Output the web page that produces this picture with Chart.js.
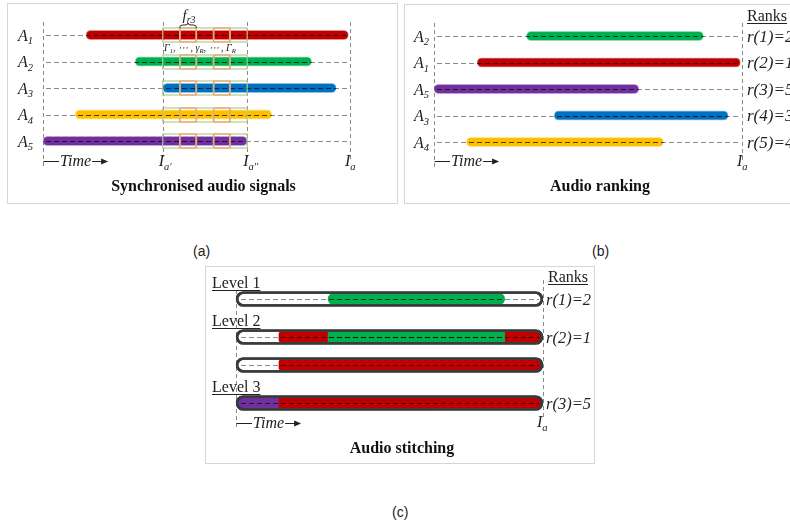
<!DOCTYPE html>
<html>
<head>
<meta charset="utf-8">
<script src="https://cdn.jsdelivr.net/npm/chart.js@4.4.0/dist/chart.umd.min.js"></script>
<style>
  html, body { margin: 0; padding: 0; background: #fff; }
  body { width: 790px; height: 529px; overflow: hidden; position: relative; }
  .panel { position: absolute; }
  .cap { position: absolute; font: 14px "Liberation Sans", Arial, sans-serif; color: #222; }
</style>
</head>
<body>
<div class="panel" style="left:7px;top:3px;width:391px;height:201px"><canvas id="syncChart"></canvas></div>
<div class="panel" style="left:404px;top:4px;width:400px;height:200px"><canvas id="rankChart"></canvas></div>
<div class="panel" style="left:205px;top:266px;width:390px;height:198px"><canvas id="stitchChart"></canvas></div>
<div class="cap" style="left:193px;top:243px">(a)</div>
<div class="cap" style="left:592px;top:243px">(b)</div>
<div class="cap" style="left:392px;top:504px">(c)</div>

<script>
// signals on a common time axis, Ia = 100
const signals = ['A1', 'A2', 'A3', 'A4', 'A5'];
const signalStart = [14, 30, 39, 10.5, 0];
const signalEnd = [99.5, 87.5, 95.5, 74.5, 66.5];
const signalColors = ['#c00000', '#00b050', '#0070c0', '#ffc000', '#7030a0'];
const windowStart = 39;    // Ia'
const windowEnd = 66.5;    // Ia''
const totalLength = 100;   // Ia
const frameCount = 5;
const highlightedFrames = [1, 3];
// r(k) = signal number
const rankValues = [2, 1, 5, 3, 4];
const levels = ['Level 1', 'Level 2', 'Level 3'];

const SERIF = '"Liberation Serif", "Times New Roman", "DejaVu Serif", serif';
const INK = '#222';

// text with subscripts: parts = [[text, isSub], ...]
function rich(ctx, parts, x, y, size, opts = {}) {
  const style = opts.style !== undefined ? opts.style : 'italic ';
  const fonts = parts.map(p => `${style}${p[1] ? size * 0.66 : size}px ${SERIF}`);
  const ws = parts.map((p, i) => { ctx.font = fonts[i]; return ctx.measureText(p[0]).width; });
  const w = ws.reduce((a, b) => a + b, 0);
  let cx = opts.align === 'right' ? x - w : opts.align === 'center' ? x - w / 2 : x;
  const x0 = cx;
  ctx.save();
  ctx.fillStyle = INK; ctx.textAlign = 'left'; ctx.textBaseline = 'alphabetic';
  parts.forEach((p, i) => {
    ctx.font = fonts[i];
    ctx.fillText(p[0], cx, p[1] ? y + size * 0.22 : y);
    cx += ws[i];
  });
  if (opts.underline) {
    ctx.strokeStyle = INK; ctx.lineWidth = 1;
    ctx.beginPath(); ctx.moveTo(x0, Math.round(y + 2) + 0.5); ctx.lineTo(x0 + w, Math.round(y + 2) + 0.5); ctx.stroke();
  }
  ctx.restore();
  return w;
}

function frame(chart) {
  const ctx = chart.ctx;
  ctx.save(); ctx.strokeStyle = '#d6d6d6'; ctx.lineWidth = 1;
  ctx.strokeRect(0.5, 0.5, chart.width - 1, chart.height - 1);
  ctx.restore();
}

function vline(ctx, x, y1, y2) {
  const px = Math.round(x) + 0.5;
  ctx.save(); ctx.strokeStyle = '#8a8a8a'; ctx.lineWidth = 1; ctx.setLineDash([4, 3]);
  ctx.beginPath(); ctx.moveTo(px, y1); ctx.lineTo(px, y2); ctx.stroke(); ctx.restore();
}

function rowDash(ctx, x1, x2, y, color) {
  const py = Math.round(y) + 0.5;
  ctx.save(); ctx.strokeStyle = color; ctx.lineWidth = 1; ctx.setLineDash([5, 3]);
  ctx.beginPath(); ctx.moveTo(x1, py); ctx.lineTo(x2, py); ctx.stroke(); ctx.restore();
}

// bar rectangles of the coloured datasets, read from the chart elements
function barRects(chart, keep) {
  const out = [];
  chart.data.datasets.forEach((ds, di) => {
    if (keep && !keep(ds)) return;
    chart.getDatasetMeta(di).data.forEach((el, i) => {
      if (ds.data[i] == null) return;
      const p = el.getProps(['x', 'y', 'base', 'height'], true);
      out.push({ l: Math.min(p.x, p.base), r: Math.max(p.x, p.base), y: p.y, h: p.height });
    });
  });
  return out;
}

// darker dashes where the dashed row line runs over a bar
function overDash(chart, rects, x1, x2, rowY) {
  const ctx = chart.ctx;
  rects.forEach(b => {
    if (Math.abs(b.y - rowY) > 1) return;
    ctx.save();
    ctx.beginPath(); ctx.rect(b.l, b.y - b.h / 2, b.r - b.l, b.h); ctx.clip();
    rowDash(ctx, x1, x2, rowY, 'rgba(20,0,0,0.7)');
    ctx.restore();
  });
}

function timeLabel(ctx, x, y) {
  const py = Math.round(y) + 0.5;
  ctx.save(); ctx.strokeStyle = INK; ctx.fillStyle = INK; ctx.lineWidth = 1;
  ctx.beginPath(); ctx.moveTo(Math.round(x) + 0.5, py); ctx.lineTo(x + 16, py); ctx.stroke();
  const w = rich(ctx, [['Time']], x + 17, y + 5, 16);
  const ax = x + 18 + w;
  ctx.beginPath(); ctx.moveTo(ax, py); ctx.lineTo(ax + 12, py); ctx.stroke();
  ctx.beginPath(); ctx.moveTo(ax + 16, py); ctx.lineTo(ax + 9, py - 3); ctx.lineTo(ax + 9, py + 3); ctx.closePath(); ctx.fill();
  ctx.restore();
}

function title(ctx, text, x, y) {
  ctx.save(); ctx.fillStyle = '#111'; ctx.font = `bold 16px ${SERIF}`;
  ctx.textAlign = 'center'; ctx.textBaseline = 'alphabetic';
  ctx.fillText(text, x, y); ctx.restore();
}

function rowLabels(ctx, names, yScale, x) {
  names.forEach((n, i) => {
    rich(ctx, [[n.slice(0, 1)], [n.slice(1), true]], x, yScale.getPixelForValue(i) + 5.5, 16, { align: 'right' });
  });
}

function baseOptions(padding) {
  return {
    indexAxis: 'y',
    responsive: true,
    maintainAspectRatio: false,
    animation: false,
    layout: { padding },
    scales: {
      x: { type: 'linear', min: 0, max: totalLength, stacked: false, display: false },
      y: { display: false }
    },
    plugins: { legend: { display: false }, tooltip: { enabled: false } }
  };
}

function signalDataset(order) {
  const idx = order.map(n => signals.indexOf(n));
  return {
    data: idx.map(i => [signalStart[i], signalEnd[i]]),
    backgroundColor: idx.map(i => signalColors[i]),
    borderColor: idx.map(i => signalColors[i] + '70'),
    borderWidth: 1,
    barThickness: 9.5,
    borderRadius: 5,
    borderSkipped: false
  };
}

// ---------- (a) synchronised audio signals ----------
const syncPlugin = {
  id: 'sync',
  beforeDatasetsDraw(chart) {
    const { ctx, scales: { x, y } } = chart;
    frame(chart);
    const top = y.getPixelForValue(0) - 13;
    const last = y.getPixelForValue(signals.length - 1);
    vline(ctx, x.getPixelForValue(0), top, last + 26);
    vline(ctx, x.getPixelForValue(windowStart), top, last + 16);
    vline(ctx, x.getPixelForValue(windowEnd), top, last + 16);
    vline(ctx, x.getPixelForValue(totalLength), top, last + 18);
    signals.forEach((s, i) => rowDash(ctx, x.getPixelForValue(0) + 3, x.getPixelForValue(totalLength) - 2, y.getPixelForValue(i), '#8c8c8c'));
  },
  afterDatasetsDraw(chart) {
    const { ctx, scales: { x, y } } = chart;
    const rects = barRects(chart);
    const x0 = x.getPixelForValue(0), x1 = x.getPixelForValue(totalLength);
    signals.forEach((s, i) => overDash(chart, rects, x0 + 3, x1 - 2, y.getPixelForValue(i)));

    // frame boxes inside the common window
    const xa = x.getPixelForValue(windowStart), xb = x.getPixelForValue(windowEnd);
    const cw = (xb - xa) / frameCount;
    ctx.save(); ctx.lineWidth = 1.2;
    signals.forEach((s, i) => {
      const yy = Math.round(y.getPixelForValue(i));
      ctx.strokeStyle = '#b5c98f';
      ctx.strokeRect(xa, yy - 7, xb - xa, 14);
      for (let k = 1; k < frameCount; k++) {
        ctx.beginPath(); ctx.moveTo(xa + k * cw, yy - 7); ctx.lineTo(xa + k * cw, yy + 7); ctx.stroke();
      }
      ctx.strokeStyle = '#f2a46c';
      highlightedFrames.forEach(k => ctx.strokeRect(xa + k * cw + 0.6, yy - 7, cw - 1.2, 14));
    });
    ctx.restore();

    // brace over the first highlighted frame
    const y0 = y.getPixelForValue(0);
    const bl = xa + highlightedFrames[0] * cw, br = bl + cw, bm = (bl + br) / 2;
    const yt = y0 - 12, ym = y0 - 10, yb = y0 - 7;
    ctx.save(); ctx.strokeStyle = INK; ctx.lineWidth = 1;
    ctx.beginPath();
    ctx.moveTo(bl, yb);
    ctx.quadraticCurveTo(bl, ym, bl + 3, ym);
    ctx.lineTo(bm - 3, ym);
    ctx.quadraticCurveTo(bm, ym, bm, yt);
    ctx.quadraticCurveTo(bm, ym, bm + 3, ym);
    ctx.lineTo(br - 3, ym);
    ctx.quadraticCurveTo(br, ym, br, yb);
    ctx.stroke(); ctx.restore();
    rich(ctx, [['f'], ['r', true], ['3', true]], bm + 1, y0 - 15, 15, { align: 'center' });
    rich(ctx, [['Γ'], ['1', true], [', ⋯ , γ'], ['R', true], [', ⋯ , Γ'], ['R', true]], (xa + xb) / 2 - 5, y0 + 16, 10, { align: 'center' });

    rowLabels(ctx, signals, y, x0 - 10);
    const last = y.getPixelForValue(signals.length - 1);
    rich(ctx, [['I'], ['a′', true]], xa - 4, last + 25, 16);
    rich(ctx, [['I'], ['a′′', true]], xb - 4, last + 25, 16);
    rich(ctx, [['I'], ['a', true]], x1 - 5, last + 25, 16);
    timeLabel(ctx, x0, last + 20);
    title(ctx, 'Synchronised audio signals', chart.width / 2 + 1, last + 50);
  }
};

new Chart(document.getElementById('syncChart'), {
  type: 'bar',
  data: { labels: signals, datasets: [signalDataset(signals)] },
  options: baseOptions({ left: 36, right: 48, top: 18.75, bottom: 49.75 }),
  plugins: [syncPlugin]
});

// ---------- (b) audio ranking ----------
const rankOrder = rankValues.map(v => 'A' + v);

const rankPlugin = {
  id: 'rank',
  beforeDatasetsDraw(chart) {
    const { ctx, scales: { x, y } } = chart;
    frame(chart);
    const top = y.getPixelForValue(0) - 13;
    const last = y.getPixelForValue(rankOrder.length - 1);
    vline(ctx, x.getPixelForValue(0), top, last + 26);
    vline(ctx, x.getPixelForValue(totalLength), top, last + 18);
    rankOrder.forEach((s, i) => rowDash(ctx, x.getPixelForValue(0) + 3, x.getPixelForValue(totalLength) - 3, y.getPixelForValue(i), '#8c8c8c'));
  },
  afterDatasetsDraw(chart) {
    const { ctx, scales: { x, y } } = chart;
    const rects = barRects(chart);
    const x0 = x.getPixelForValue(0), x1 = x.getPixelForValue(totalLength);
    rankOrder.forEach((s, i) => overDash(chart, rects, x0 + 3, x1 - 3, y.getPixelForValue(i)));
    rowLabels(ctx, rankOrder, y, x0 - 5);
    rich(ctx, [['Ranks']], x1 + 5, y.getPixelForValue(0) - 15, 16, { style: '', underline: true });
    rankValues.forEach((v, i) => rich(ctx, [[`r(${i + 1})=${v}`]], x1 + 5, y.getPixelForValue(i) + 5.5, 17));
    const last = y.getPixelForValue(rankOrder.length - 1);
    rich(ctx, [['I'], ['a', true]], x1 - 5, last + 24, 16);
    timeLabel(ctx, x0, last + 19);
    title(ctx, 'Audio ranking', 196, last + 49);
  }
};

new Chart(document.getElementById('rankChart'), {
  type: 'bar',
  data: { labels: rankOrder, datasets: [signalDataset(rankOrder)] },
  options: baseOptions({ left: 30, right: 62, top: 18.75, bottom: 48.75 }),
  plugins: [rankPlugin]
});

// ---------- (c) audio stitching ----------
const a1 = 0, a2 = 1, a5 = 4;
const span = i => [signalStart[i], signalEnd[i]];
const segment = (data, color, stack, order, radius) => ({
  data, stack, order,
  backgroundColor: signalColors[color],
  barThickness: 28, maxBarThickness: 11, skipNull: true,
  borderSkipped: false, borderRadius: radius
});
const outline = (data, stack) => ({
  data, stack, order: 0, outline: true,
  backgroundColor: 'rgba(0,0,0,0)', borderColor: '#3a3a3a', borderWidth: 2,
  barThickness: 28, maxBarThickness: 15, skipNull: true,
  borderSkipped: false, borderRadius: 7.5
});

const stitchPlugin = {
  id: 'stitch',
  rows(chart) {
    return barRects(chart, ds => ds.outline).sort((p, q) => p.y - q.y);
  },
  beforeDatasetsDraw(chart) {
    const { ctx, scales: { x } } = chart;
    frame(chart);
    const rows = this.rows(chart);
    const first = rows[0].y, last = rows[rows.length - 1].y;
    vline(ctx, x.getPixelForValue(0), first - 9, last + 27);
    vline(ctx, x.getPixelForValue(totalLength), first - 19, last + 14);
    rows.forEach(r => rowDash(ctx, x.getPixelForValue(0) + 5, x.getPixelForValue(totalLength) - 4, r.y, '#8c8c8c'));
  },
  afterDatasetsDraw(chart) {
    const { ctx, scales: { x, y } } = chart;
    const rows = this.rows(chart);
    const rects = barRects(chart, ds => !ds.outline);
    const x0 = x.getPixelForValue(0), x1 = x.getPixelForValue(totalLength);
    rows.forEach(r => overDash(chart, rects, x0 + 5, x1 - 4, r.y));
    // redraw outlines on top of the dashes
    chart.data.datasets.forEach((ds, di) => {
      if (!ds.outline) return;
      chart.getDatasetMeta(di).data.forEach((el, i) => { if (ds.data[i] != null) el.draw(ctx); });
    });
    const upper = chart.getDatasetMeta(chart.data.datasets.findIndex(ds => ds.outline && ds.stack === 'upper')).data;
    levels.forEach((lv, i) => {
      const ry = upper[i].y;
      rich(ctx, [[lv]], 7, ry - 11.5, 16, { style: '', underline: true });
      rich(ctx, [[`r(${i + 1})=${rankValues[i]}`]], x1 + 3, ry + 5.5, 16.5);
    });
    const first = rows[0].y, last = rows[rows.length - 1].y;
    rich(ctx, [['Ranks']], x1 + 5, first - 17, 16, { style: '', underline: true });
    rich(ctx, [['I'], ['a', true]], x1 - 6, last + 24, 16);
    timeLabel(ctx, x0, last + 20);
    title(ctx, 'Audio stitching', 197, last + 50);
  }
};

new Chart(document.getElementById('stitchChart'), {
  type: 'bar',
  data: {
    labels: levels,
    datasets: [
      outline([[0, totalLength], [0, totalLength], [0, totalLength]], 'upper'),
      segment([span(a2), span(a2), null], a2, 'upper', 1,
        c => c.dataIndex === 0 ? 5.5 : 0),
      segment([null, span(a1), span(a1)], a1, 'upper', 2,
        c => ({ topLeft: c.dataIndex === 1 ? 3 : 0, bottomLeft: c.dataIndex === 1 ? 3 : 0, topRight: 5.5, bottomRight: 5.5 })),
      segment([null, null, span(a5)], a5, 'upper', 3, 5.5),
      outline([null, [0, totalLength], null], 'lower'),
      segment([null, span(a1), null], a1, 'lower', 2,
        { topLeft: 3, bottomLeft: 3, topRight: 5.5, bottomRight: 5.5 })
    ]
  },
  options: baseOptions({ left: 31, right: 52, top: 7, bottom: 35 }),
  plugins: [stitchPlugin]
});
</script>
</body>
</html>
